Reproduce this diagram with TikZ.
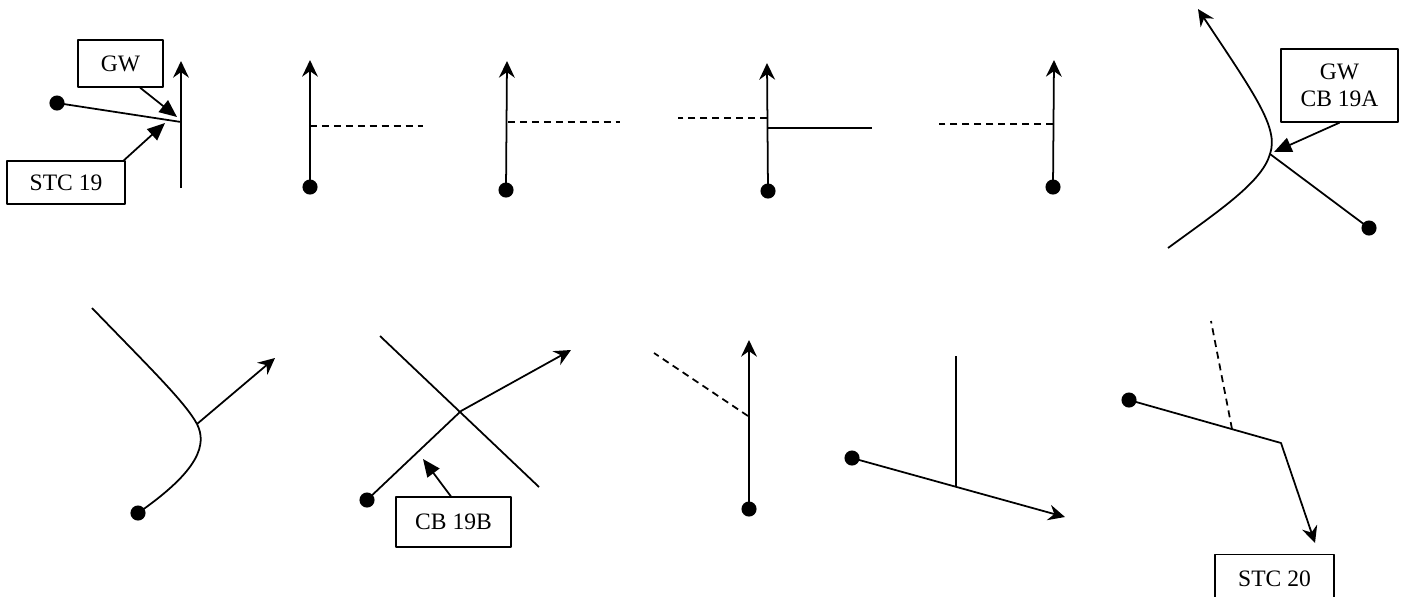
\documentclass[tikz,border=0pt]{standalone}
\usepackage{fontspec}
\setmainfont{Liberation Serif}
\usetikzlibrary{arrows.meta}
\begin{document}
\begin{tikzpicture}[x=0.02cm,y=-0.02cm,
  line width=1pt, line join=round,
  dot/.style={circle, fill=black, inner sep=0pt, minimum size=8.6pt},
  lbl/.style={draw, line width=0.8pt, rectangle, inner sep=0pt, align=center,
     font=\fontsize{13.4pt}{15.5pt}\selectfont},
  flow/.style={-{Stealth[length=9.5pt,width=9pt,inset=3.2pt]}},
  ptr/.style={-{Triangle[length=10pt,width=8.5pt]}},
  dsh/.style={dash pattern=on 4pt off 2.8pt}]
\useasboundingbox (0,0) rectangle (1403,596);
\clip (0,0) rectangle (1403,596);

% ---------- panel 1 ----------
\node[dot] (d1) at (57,103) {};
\coordinate (j1) at (181,122);
\coordinate (b1) at (181,188);
\coordinate (t1) at (181,61);
\draw (d1.center) -- (j1);
\draw[flow] (b1) -- (t1);
\node[lbl, minimum width=48.4pt, minimum height=26.7pt] (gw1) at (120.5,63.5) {GW};
\node[lbl, minimum width=67.1pt, minimum height=24.5pt] (stc19) at (66,182.5) {STC 19};
\coordinate (p1a) at (177,117);
\coordinate (p1b) at (165,123);
\draw[ptr] (gw1.-51) -- (p1a);
\draw[ptr] (stc19.21) -- (p1b);

% ---------- panel 2 ----------
\node[dot] (d2) at (310,187) {};
\coordinate (t2) at (310,60);
\coordinate (j2) at (310,126);
\coordinate (e2) at (423,126);
\draw[flow] (d2.center) -- (t2);
\draw[dsh] (j2) -- (e2);

% ---------- panel 3 ----------
\node[dot] (d3) at (506,190) {};
\coordinate (t3) at (507,61);
\coordinate (j3) at (508,122);
\coordinate (e3) at (620,122);
\draw[flow] (d3.center) -- (t3);
\draw[dsh] (j3) -- (e3);

% ---------- panel 4 ----------
\node[dot] (d4) at (768,191) {};
\coordinate (t4) at (767,63);
\coordinate (j4a) at (767,118);
\coordinate (e4a) at (678,118);
\coordinate (j4b) at (767,128);
\coordinate (e4b) at (872,128);
\draw[flow] (d4.center) -- (t4);
\draw[dsh] (j4a) -- (e4a);
\draw (j4b) -- (e4b);

% ---------- panel 5 ----------
\node[dot] (d5) at (1053,187) {};
\coordinate (t5) at (1054,60);
\coordinate (j5) at (1053,124);
\coordinate (e5) at (939,124);
\draw[flow] (d5.center) -- (t5);
\draw[dsh] (j5) -- (e5);

% ---------- panel 6 ----------
\coordinate (s6) at (1168,248);
\coordinate (j6) at (1270,154);
\coordinate (t6) at (1198,9);
\node[dot] (d6) at (1369,228) {};
\draw (s6) .. controls (1220,210) and (1262,182) .. (j6);
\draw[flow] (j6) .. controls (1279,128) and (1255,95) .. (t6);
\draw (j6) -- (d6.center);
\node[lbl, minimum width=66.6pt, minimum height=41.5pt] (cba) at (1339.5,85.5) {GW\\CB 19A};
\coordinate (p6) at (1274,152);
\draw[ptr] (cba.south) -- (p6);

% ---------- panel 7 ----------
\coordinate (s7) at (92,308);
\coordinate (j7) at (197,424);
\node[dot] (d7) at (138,513) {};
\coordinate (t7) at (275,358);
\draw (s7) .. controls (150,368) and (185,402) .. (j7);
\draw (j7) .. controls (207,444) and (200,470) .. (d7.center);
\draw[flow] (j7) -- (t7);

% ---------- panel 8 ----------
\coordinate (s8) at (380,336);
\coordinate (e8) at (539,487);
\node[dot] (d8) at (367,500) {};
\coordinate (j8) at (461,411);
\coordinate (t8) at (571,350);
\draw (s8) -- (e8);
\draw[flow] (d8.center) -- (j8) -- (t8);
\node[lbl, minimum width=65.4pt, minimum height=28.5pt] (cbb) at (453.5,522) {CB 19B};
\coordinate (p8) at (423,459);
\draw[ptr] (cbb.96) -- (p8);

% ---------- panel 9 ----------
\node[dot] (d9) at (749,509) {};
\coordinate (t9) at (749,340);
\coordinate (j9) at (748,416);
\coordinate (e9) at (654,353);
\draw[flow] (d9.center) -- (t9);
\draw[dsh] (j9) -- (e9);

% ---------- panel 10 ----------
\node[dot] (d10) at (852,458) {};
\coordinate (t10) at (1065,517);
\coordinate (j10) at (956,487);
\coordinate (e10) at (956,356);
\draw[flow] (d10.center) -- (t10);
\draw (j10) -- (e10);

% ---------- panel 11 ----------
\node[dot] (d11) at (1129,400) {};
\coordinate (k11) at (1281,443);
\coordinate (t11) at (1315,543);
\coordinate (j11) at (1232,429);
\coordinate (e11) at (1211,321);
\draw[flow] (d11.center) -- (k11) -- (t11);
\draw[dsh] (j11) -- (e11);
\node[lbl, anchor=north, minimum width=67.7pt, minimum height=27.3pt] (stc20) at (1274.5,554) {STC 20};
\end{tikzpicture}
\end{document}
